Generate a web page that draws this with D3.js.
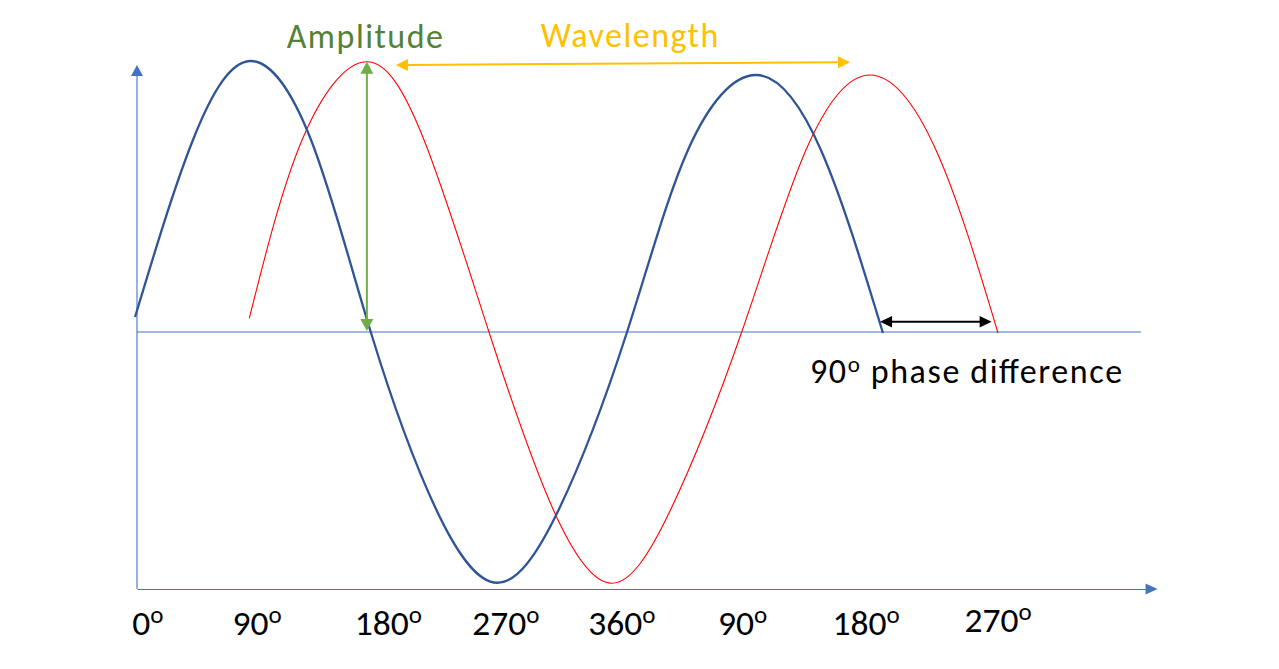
<!DOCTYPE html>
<html><head><meta charset="utf-8">
<script src="https://cdn.jsdelivr.net/npm/d3@7"></script>
<style>html,body{margin:0;padding:0;background:#fff;overflow:hidden}</style>
</head><body>
<svg id="chart" width="1279" height="669"></svg>
<script>
// ---- data (x in phase degrees, y in amplitude units) ----
const blueWave = [[-1.4,0.06],[40.4,0.768],[81.6,1.084],[125.7,0.768],[168.8,0],[215.9,-0.708],[260.2,-1.003],[304.8,-0.708],[353.9,0],[397.9,0.728],[447.0,1.028],[493.9,0.728],[538.7,-0.004]];
const redWave = [[81.1,0.055],[119.2,0.768],[165.4,1.081],[207.3,0.768],[254.2,0],[300.4,-0.708],[342.8,-1.005],[385.6,-0.708],[436.7,0],[483.1,0.728],[529.3,1.028],[577.0,0.728],[621.8,-0.004]];
const tickLabels = ["0","90","180","270","360","90","180","270"];
const tickDeg = [7.8, 86.7, 181.5, 266.3, 350.1, 437.4, 526.5, 621.8];
const tickAmp = [-1.212,-1.212,-1.212,-1.212,-1.212,-1.212,-1.212,-1.199];
const axisX = [0, 737];          // x axis from 0 to arrow tip (deg)
const axisY = [-1.028, 1.068];   // y axis from bottom to arrow tip (amp)
const midLine = [0, 725];        // zero line extent (deg)
const amplitudeArrow = [[166, 0.004],[166, 1.081]];
const wavelengthArrow = [[187.0, 1.068],[514.9, 1.079]];
const phaseArrow = [[536.6, 0.041],[617.2, 0.041]];
const labelTexts = ["Amplitude", "Wavelength", "90", " phase difference"];
const labelDeg = [108.1, 291.5, 486.0];
const labelAmp = [1.135, 1.141, -0.205];
const labelSpanDeg = [112.9, 128.3, 225.4]; // horizontal extent of each label (deg)

// ---- scales ----
const x = d3.scaleLinear().domain([0, 720]).range([137, 1134]);
const y = d3.scaleLinear().domain([-1, 1]).range([582, 82]);

const svg = d3.select("#chart");
const FONT = "Carlito, Calibri, Lato, sans-serif";

function tri(g, tip, dir, len, half, color) {
  const [tx, ty] = tip, [dx, dy] = dir;
  const bx = tx - dx * len, by = ty - dy * len;
  const nx = -dy, ny = dx;
  g.append("path")
    .attr("d", `M${tx},${ty}L${bx + nx * half},${by + ny * half}L${bx - nx * half},${by - ny * half}Z`)
    .attr("fill", color);
}
function arrow(g, p0, p1, color, w, len, half, startHead, endHead) {
  const a = [x(p0[0]), y(p0[1])], b = [x(p1[0]), y(p1[1])];
  const L = Math.hypot(b[0] - a[0], b[1] - a[1]);
  const d = [(b[0] - a[0]) / L, (b[1] - a[1]) / L];
  const s = startHead ? len * 0.9 : 0, e = endHead ? len * 0.9 : 0;
  g.append("line")
    .attr("x1", a[0] + d[0] * s).attr("y1", a[1] + d[1] * s)
    .attr("x2", b[0] - d[0] * e).attr("y2", b[1] - d[1] * e)
    .attr("stroke", color).attr("stroke-width", w);
  if (endHead) tri(g, b, d, len, half, color);
  if (startHead) tri(g, a, [-d[0], -d[1]], len, half, color);
}

const axisColor = "#4472C4";

// zero line
svg.append("line")
  .attr("x1", x(midLine[0])).attr("x2", x(midLine[1]))
  .attr("y1", y(0)).attr("y2", y(0))
  .attr("stroke", axisColor).attr("stroke-width", 1.1);

// y axis (vertical arrow)
arrow(svg, [0, axisY[0]], [0, axisY[1]], axisColor, 1.1, 11, 6, false, true);

// x axis with tick labels via d3.axisBottom
const xArrowLen = 12;
const xAxisScale = x.copy().domain([0, x.invert(x(axisX[1]) - xArrowLen)]).range([x(0), x(axisX[1]) - xArrowLen]);
const gx = svg.append("g")
  .attr("transform", `translate(0,${y(axisY[0])})`)
  .call(d3.axisBottom(xAxisScale).tickValues(d3.range(tickDeg.length)).tickSize(0).tickSizeOuter(0).tickFormat(""));
gx.select(".domain").attr("stroke", axisColor).attr("stroke-width", 1.1);
gx.selectAll(".tick").attr("transform", i => `translate(${x(tickDeg[i])},0)`);
gx.selectAll(".tick text").each(function(i) {
  const t = d3.select(this)
    .attr("y", y(tickAmp[i]) - y(axisY[0])).attr("dy", 0)
    .attr("text-anchor", "middle")
    .attr("fill", "#000").style("font-family", FONT).style("font-size", "35.5px");
  t.text(null);
  t.append("tspan").text(tickLabels[i]);
  t.append("tspan").attr("dy", -12).style("font-size", "25px").text("o");
});
tri(svg, [x(axisX[1]), y(axisY[0])], [1, 0], xArrowLen, 5.5, axisColor);

// waves
const line = d3.line().x(d => x(d[0])).y(d => y(d[1])).curve(d3.curveNatural);
svg.append("path").datum(redWave).attr("d", line)
  .attr("fill", "none").attr("stroke", "#FF0000").attr("stroke-width", 1.1);
svg.append("path").datum(blueWave).attr("d", line)
  .attr("fill", "none").attr("stroke", "#2F5597").attr("stroke-width", 2.3);

// annotation arrows
arrow(svg, amplitudeArrow[0], amplitudeArrow[1], "#70AD47", 2, 12, 6.5, true, true);
arrow(svg, wavelengthArrow[0], wavelengthArrow[1], "#FFC000", 2, 12, 6, true, true);
arrow(svg, phaseArrow[0], phaseArrow[1], "#000000", 1.8, 12, 5.7, true, true);

// labels
const spanPx = i => x(labelDeg[i] + labelSpanDeg[i]) - x(labelDeg[i]);
svg.append("text").attr("x", x(labelDeg[0])).attr("y", y(labelAmp[0]))
  .attr("fill", "#548235").style("font-family", FONT).style("font-size", "34px")
  .attr("textLength", spanPx(0)).attr("lengthAdjust", "spacing").text(labelTexts[0]);
svg.append("text").attr("x", x(labelDeg[1])).attr("y", y(labelAmp[1]))
  .attr("fill", "#FFC000").style("font-family", FONT).style("font-size", "34px")
  .attr("textLength", spanPx(1)).attr("lengthAdjust", "spacing").text(labelTexts[1]);
const ph = svg.append("text").attr("x", x(labelDeg[2])).attr("y", y(labelAmp[2]))
  .attr("fill", "#000").style("font-family", FONT).style("font-size", "34px")
  .attr("textLength", spanPx(2)).attr("lengthAdjust", "spacing");
ph.append("tspan").text(labelTexts[2]);
ph.append("tspan").attr("dy", -11).style("font-size", "23px").text("o");
ph.append("tspan").attr("dy", 11).text(labelTexts[3]);
</script>
</body></html>
